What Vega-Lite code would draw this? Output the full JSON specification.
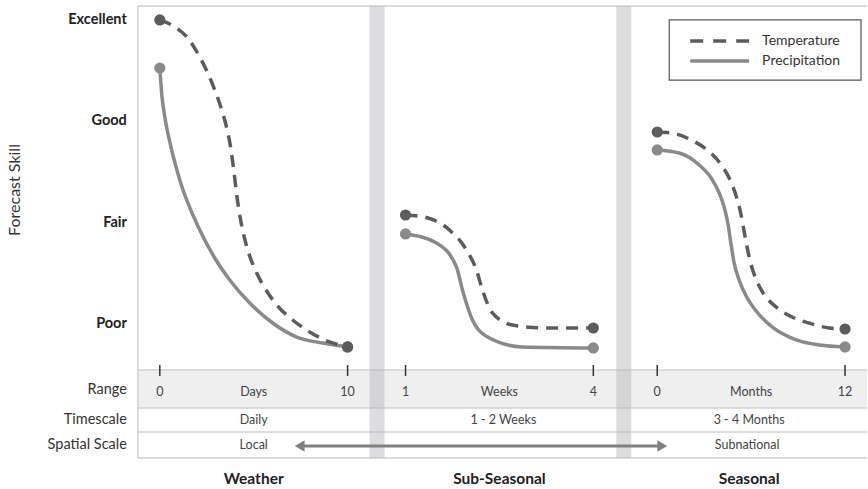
{
  "$schema": "https://vega.github.io/schema/vega-lite/v6.json",
  "width": 868,
  "height": 489,
  "padding": 0,
  "autosize": {"type": "fit", "contains": "padding"},
  "background": "white",
  "config": {"view": {"stroke": null}, "font": "Lato"},
  "datasets": {
    "curves": [
      {"series": "Temperature", "grp": "T1", "x": 160, "y": 4.0},
      {"series": "Temperature", "grp": "T1", "x": 175, "y": 3.931},
      {"series": "Temperature", "grp": "T1", "x": 188, "y": 3.822},
      {"series": "Temperature", "grp": "T1", "x": 200, "y": 3.634},
      {"series": "Temperature", "grp": "T1", "x": 208, "y": 3.477},
      {"series": "Temperature", "grp": "T1", "x": 215, "y": 3.309},
      {"series": "Temperature", "grp": "T1", "x": 222, "y": 3.111},
      {"series": "Temperature", "grp": "T1", "x": 227, "y": 2.934},
      {"series": "Temperature", "grp": "T1", "x": 231, "y": 2.736},
      {"series": "Temperature", "grp": "T1", "x": 234, "y": 2.519},
      {"series": "Temperature", "grp": "T1", "x": 237, "y": 2.273},
      {"series": "Temperature", "grp": "T1", "x": 240, "y": 2.075},
      {"series": "Temperature", "grp": "T1", "x": 244, "y": 1.878},
      {"series": "Temperature", "grp": "T1", "x": 249, "y": 1.7},
      {"series": "Temperature", "grp": "T1", "x": 257, "y": 1.503},
      {"series": "Temperature", "grp": "T1", "x": 267, "y": 1.325},
      {"series": "Temperature", "grp": "T1", "x": 278, "y": 1.177},
      {"series": "Temperature", "grp": "T1", "x": 293, "y": 1.039},
      {"series": "Temperature", "grp": "T1", "x": 310, "y": 0.921},
      {"series": "Temperature", "grp": "T1", "x": 330, "y": 0.822},
      {"series": "Temperature", "grp": "T1", "x": 348, "y": 0.773},
      {"series": "Precipitation", "grp": "P1", "x": 160, "y": 3.526},
      {"series": "Precipitation", "grp": "P1", "x": 162, "y": 3.26},
      {"series": "Precipitation", "grp": "P1", "x": 165, "y": 3.042},
      {"series": "Precipitation", "grp": "P1", "x": 170, "y": 2.796},
      {"series": "Precipitation", "grp": "P1", "x": 180, "y": 2.421},
      {"series": "Precipitation", "grp": "P1", "x": 200, "y": 1.927},
      {"series": "Precipitation", "grp": "P1", "x": 215, "y": 1.651},
      {"series": "Precipitation", "grp": "P1", "x": 230, "y": 1.434},
      {"series": "Precipitation", "grp": "P1", "x": 250, "y": 1.207},
      {"series": "Precipitation", "grp": "P1", "x": 273, "y": 1.009},
      {"series": "Precipitation", "grp": "P1", "x": 297, "y": 0.871},
      {"series": "Precipitation", "grp": "P1", "x": 323, "y": 0.812},
      {"series": "Precipitation", "grp": "P1", "x": 348, "y": 0.773},
      {"series": "Temperature", "grp": "T2", "x": 406, "y": 2.075},
      {"series": "Temperature", "grp": "T2", "x": 425, "y": 2.055},
      {"series": "Temperature", "grp": "T2", "x": 450, "y": 1.927},
      {"series": "Temperature", "grp": "T2", "x": 467, "y": 1.73},
      {"series": "Temperature", "grp": "T2", "x": 477, "y": 1.532},
      {"series": "Temperature", "grp": "T2", "x": 483, "y": 1.335},
      {"series": "Temperature", "grp": "T2", "x": 493, "y": 1.108},
      {"series": "Temperature", "grp": "T2", "x": 513, "y": 0.99},
      {"series": "Temperature", "grp": "T2", "x": 547, "y": 0.96},
      {"series": "Temperature", "grp": "T2", "x": 594, "y": 0.96},
      {"series": "Precipitation", "grp": "P2", "x": 406, "y": 1.888},
      {"series": "Precipitation", "grp": "P2", "x": 437, "y": 1.799},
      {"series": "Precipitation", "grp": "P2", "x": 457, "y": 1.562},
      {"series": "Precipitation", "grp": "P2", "x": 463, "y": 1.335},
      {"series": "Precipitation", "grp": "P2", "x": 473, "y": 1.039},
      {"series": "Precipitation", "grp": "P2", "x": 490, "y": 0.861},
      {"series": "Precipitation", "grp": "P2", "x": 523, "y": 0.773},
      {"series": "Precipitation", "grp": "P2", "x": 594, "y": 0.763},
      {"series": "Temperature", "grp": "T3", "x": 658, "y": 2.894},
      {"series": "Temperature", "grp": "T3", "x": 673, "y": 2.884},
      {"series": "Temperature", "grp": "T3", "x": 692, "y": 2.815},
      {"series": "Temperature", "grp": "T3", "x": 708, "y": 2.717},
      {"series": "Temperature", "grp": "T3", "x": 720, "y": 2.598},
      {"series": "Temperature", "grp": "T3", "x": 730, "y": 2.44},
      {"series": "Temperature", "grp": "T3", "x": 737, "y": 2.263},
      {"series": "Temperature", "grp": "T3", "x": 742, "y": 2.075},
      {"series": "Temperature", "grp": "T3", "x": 746, "y": 1.858},
      {"series": "Temperature", "grp": "T3", "x": 750, "y": 1.661},
      {"series": "Temperature", "grp": "T3", "x": 756, "y": 1.463},
      {"series": "Temperature", "grp": "T3", "x": 764, "y": 1.305},
      {"series": "Temperature", "grp": "T3", "x": 777, "y": 1.167},
      {"series": "Temperature", "grp": "T3", "x": 793, "y": 1.069},
      {"series": "Temperature", "grp": "T3", "x": 810, "y": 1.009},
      {"series": "Temperature", "grp": "T3", "x": 830, "y": 0.96},
      {"series": "Temperature", "grp": "T3", "x": 846, "y": 0.95},
      {"series": "Precipitation", "grp": "P3", "x": 658, "y": 2.717},
      {"series": "Precipitation", "grp": "P3", "x": 680, "y": 2.687},
      {"series": "Precipitation", "grp": "P3", "x": 700, "y": 2.569},
      {"series": "Precipitation", "grp": "P3", "x": 712, "y": 2.44},
      {"series": "Precipitation", "grp": "P3", "x": 720, "y": 2.292},
      {"series": "Precipitation", "grp": "P3", "x": 725, "y": 2.154},
      {"series": "Precipitation", "grp": "P3", "x": 729, "y": 1.977},
      {"series": "Precipitation", "grp": "P3", "x": 732, "y": 1.779},
      {"series": "Precipitation", "grp": "P3", "x": 735, "y": 1.601},
      {"series": "Precipitation", "grp": "P3", "x": 740, "y": 1.434},
      {"series": "Precipitation", "grp": "P3", "x": 747, "y": 1.276},
      {"series": "Precipitation", "grp": "P3", "x": 757, "y": 1.128},
      {"series": "Precipitation", "grp": "P3", "x": 773, "y": 0.97},
      {"series": "Precipitation", "grp": "P3", "x": 797, "y": 0.842},
      {"series": "Precipitation", "grp": "P3", "x": 820, "y": 0.792},
      {"series": "Precipitation", "grp": "P3", "x": 846, "y": 0.773}
    ],
    "dots": [
      {"series": "Precipitation", "x": 160, "y": 3.526},
      {"series": "Precipitation", "x": 348, "y": 0.773},
      {"series": "Precipitation", "x": 406, "y": 1.888},
      {"series": "Precipitation", "x": 594, "y": 0.763},
      {"series": "Precipitation", "x": 658, "y": 2.717},
      {"series": "Precipitation", "x": 846, "y": 0.773},
      {"series": "Temperature", "x": 160, "y": 4.0},
      {"series": "Temperature", "x": 348, "y": 0.773},
      {"series": "Temperature", "x": 406, "y": 2.075},
      {"series": "Temperature", "x": 594, "y": 0.96},
      {"series": "Temperature", "x": 658, "y": 2.894},
      {"series": "Temperature", "x": 846, "y": 0.95}
    ]
  },
  "encoding": {
    "x": {"field": "x", "type": "quantitative", "scale": {"domain": [0, 868], "nice": false, "zero": false}, "axis": null},
    "y": {"field": "y", "type": "quantitative", "scale": {"domain": [-0.629, 4.197], "nice": false, "zero": false}, "axis": null}
  },
  "layer": [
    {
      "data": {"values": [{"x": 138, "x2": 868, "y": 0.546, "y2": 0.171}]},
      "mark": {"type": "rect", "color": "#efefef"},
      "encoding": {"x2": {"field": "x2"}, "y2": {"field": "y2"}}
    },
    {
      "data": {"values": [
        {"x": 138, "x2": 868, "y": 4.138, "y2": 4.138},
        {"x": 138, "x2": 868, "y": 0.546, "y2": 0.546},
        {"x": 138, "x2": 868, "y": 0.171, "y2": 0.171},
        {"x": 138, "x2": 868, "y": -0.066, "y2": -0.066},
        {"x": 138, "x2": 868, "y": -0.323, "y2": -0.323},
        {"x": 138, "x2": 138, "y": 4.138, "y2": -0.323}
      ]},
      "mark": {"type": "rule", "color": "#d2d2d2", "strokeWidth": 1.5},
      "encoding": {"x2": {"field": "x2"}, "y2": {"field": "y2"}}
    },
    {
      "data": {"values": [
        {"x": 370, "x2": 385, "y": 4.138, "y2": -0.323},
        {"x": 617, "x2": 632, "y": 4.138, "y2": -0.323}
      ]},
      "mark": {"type": "rect", "color": "#b4b4ba", "opacity": 0.45},
      "encoding": {"x2": {"field": "x2"}, "y2": {"field": "y2"}}
    },
    {
      "data": {"values": [
        {"x": 160, "y": 0.595, "y2": 0.486},
        {"x": 348, "y": 0.595, "y2": 0.486},
        {"x": 406, "y": 0.595, "y2": 0.486},
        {"x": 594, "y": 0.595, "y2": 0.486},
        {"x": 658, "y": 0.595, "y2": 0.486},
        {"x": 846, "y": 0.595, "y2": 0.486}
      ]},
      "mark": {"type": "rule", "color": "#333333", "strokeWidth": 1.5},
      "encoding": {"y2": {"field": "y2"}}
    },
    {
      "data": {"values": [{"x": 300, "x2": 663, "y": -0.205}]},
      "mark": {"type": "rule", "color": "#808080", "strokeWidth": 3},
      "encoding": {"x2": {"field": "x2"}}
    },
    {
      "data": {"values": [{"x": 300, "y": -0.205, "dir": "left"}, {"x": 663, "y": -0.205, "dir": "right"}]},
      "mark": {"type": "point", "filled": true, "color": "#808080", "opacity": 1, "size": 130},
      "encoding": {
        "shape": {"field": "dir", "type": "nominal", "scale": {"domain": ["left", "right"], "range": ["triangle-left", "triangle-right"]}, "legend": null}
      }
    },
    {
      "data": {"name": "curves"},
      "transform": [{"filter": "datum.series === 'Precipitation'"}],
      "mark": {"type": "line", "interpolate": "monotone", "color": "#8a8a8a", "strokeWidth": 3.5},
      "encoding": {"detail": {"field": "grp"}, "order": {"field": "x", "type": "quantitative"}}
    },
    {
      "data": {"name": "curves"},
      "transform": [{"filter": "datum.series === 'Temperature'"}],
      "mark": {"type": "line", "interpolate": "monotone", "color": "#5c5c5c", "strokeWidth": 3.5, "strokeDash": [12, 8]},
      "encoding": {"detail": {"field": "grp"}, "order": {"field": "x", "type": "quantitative"}}
    },
    {
      "data": {"name": "dots"},
      "mark": {"type": "circle", "size": 125, "opacity": 1},
      "encoding": {
        "color": {"field": "series", "type": "nominal", "scale": {"domain": ["Temperature", "Precipitation"], "range": ["#5c5c5c", "#8a8a8a"]}, "legend": null}
      }
    },
    {
      "data": {"values": [{"x": 670, "x2": 862, "y": 4.0, "y2": 3.407}]},
      "mark": {"type": "rect", "fill": "white", "stroke": "#555555", "strokeWidth": 1.2},
      "encoding": {"x2": {"field": "x2"}, "y2": {"field": "y2"}}
    },
    {
      "data": {"values": [{"x": 691, "x2": 750, "y": 3.792}]},
      "mark": {"type": "rule", "color": "#5c5c5c", "strokeWidth": 3.5, "strokeDash": [13, 10]},
      "encoding": {"x2": {"field": "x2"}}
    },
    {
      "data": {"values": [{"x": 691, "x2": 750, "y": 3.595}]},
      "mark": {"type": "rule", "color": "#8a8a8a", "strokeWidth": 3.5},
      "encoding": {"x2": {"field": "x2"}}
    },
    {
      "data": {"values": [{"x": 763, "y": 3.792, "t": "Temperature"}, {"x": 763, "y": 3.595, "t": "Precipitation"}]},
      "mark": {"type": "text", "align": "left", "baseline": "middle", "fontSize": 14, "color": "#333333"},
      "encoding": {"text": {"field": "t"}}
    },
    {
      "data": {"values": [
        {"x": 127, "y": 4, "t": "Excellent"},
        {"x": 127, "y": 3, "t": "Good"},
        {"x": 127, "y": 2, "t": "Fair"},
        {"x": 127, "y": 1, "t": "Poor"}
      ]},
      "mark": {"type": "text", "align": "right", "baseline": "middle", "fontSize": 14.5, "fontWeight": "bold", "color": "#222222"},
      "encoding": {"text": {"field": "t"}}
    },
    {
      "data": {"values": [
        {"x": 127, "y": 0.348, "t": "Range"},
        {"x": 127, "y": 0.052, "t": "Timescale"},
        {"x": 127, "y": -0.195, "t": "Spatial Scale"}
      ]},
      "mark": {"type": "text", "align": "right", "baseline": "middle", "fontSize": 14.5, "color": "#333333"},
      "encoding": {"text": {"field": "t"}}
    },
    {
      "data": {"values": [
        {"x": 160, "y": 0.328, "t": "0"},
        {"x": 254, "y": 0.328, "t": "Days"},
        {"x": 348, "y": 0.328, "t": "10"},
        {"x": 406, "y": 0.328, "t": "1"},
        {"x": 500, "y": 0.328, "t": "Weeks"},
        {"x": 594, "y": 0.328, "t": "4"},
        {"x": 658, "y": 0.328, "t": "0"},
        {"x": 752, "y": 0.328, "t": "Months"},
        {"x": 846, "y": 0.328, "t": "12"},
        {"x": 254, "y": 0.052, "t": "Daily"},
        {"x": 504, "y": 0.052, "t": "1 - 2 Weeks"},
        {"x": 750, "y": 0.052, "t": "3 - 4 Months"},
        {"x": 254, "y": -0.195, "t": "Local"},
        {"x": 748, "y": -0.195, "t": "Subnational"}
      ]},
      "mark": {"type": "text", "align": "center", "baseline": "middle", "fontSize": 12.5, "color": "#444444"},
      "encoding": {"text": {"field": "t"}}
    },
    {
      "data": {"values": [
        {"x": 254, "y": -0.53, "t": "Weather"},
        {"x": 500, "y": -0.53, "t": "Sub-Seasonal"},
        {"x": 750, "y": -0.53, "t": "Seasonal"}
      ]},
      "mark": {"type": "text", "align": "center", "baseline": "middle", "fontSize": 15.5, "fontWeight": "bold", "color": "#222222"},
      "encoding": {"text": {"field": "t"}}
    },
    {
      "data": {"values": [{"x": 15, "y": 2.322, "t": "Forecast Skill"}]},
      "mark": {"type": "text", "align": "center", "baseline": "middle", "angle": 270, "fontSize": 16, "color": "#333333"},
      "encoding": {"text": {"field": "t"}}
    }
  ]
}
